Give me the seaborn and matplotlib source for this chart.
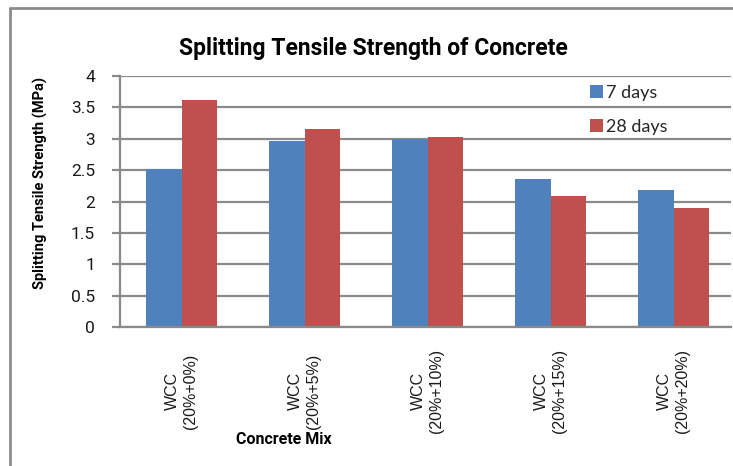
import matplotlib
matplotlib.use("Agg")
import matplotlib.pyplot as plt
from matplotlib.lines import Line2D
import seaborn as sns
import pandas as pd

# Concrete mixes and measured splitting tensile strength (MPa)
mixes = ["WCC\n(20%+0%)", "WCC\n(20%+5%)", "WCC\n(20%+10%)", "WCC\n(20%+15%)", "WCC\n(20%+20%)"]
ages = ["7 days", "28 days"]
strength_7d = [2.52, 2.97, 3.00, 2.36, 2.18]
strength_28d = [3.62, 3.15, 3.03, 2.08, 1.89]
yticks = [0, 0.5, 1, 1.5, 2, 2.5, 3, 3.5, 4]
ytick_labels = ["0", "0.5", "1", "1.5", "2", "2.5", "3", "3.5", "4"]

df = pd.DataFrame({
    "Mix": mixes * 2,
    "Age": [ages[0]] * len(mixes) + [ages[1]] * len(mixes),
    "Strength": strength_7d + strength_28d,
})

sns.set_theme(style="white")
plt.rcParams["font.family"] = ["Roboto", "DejaVu Sans"]

W, H = 733, 466
fig = plt.figure(figsize=(W / 100, H / 100), dpi=100)
ax = fig.add_axes([120 / W, (H - 327) / H, (731 - 120) / W, (327 - 76) / H])

grid_col = "#8a8a8a"
ax.set_axisbelow(True)
ax.yaxis.grid(True, color=grid_col, linewidth=1.6)
ax.xaxis.grid(False)

sns.barplot(data=df, x="Mix", y="Strength", hue="Age", order=mixes, hue_order=ages,
            palette=["#4F81BD", "#C0504D"], width=0.57, saturation=1,
            edgecolor="none", ax=ax)

ax.set_ylim(0, 4)
ax.set_xlim(-0.5, -0.5 + 611 / 123)
ax.set_yticks(yticks)
ax.set_yticklabels(ytick_labels, fontfamily="Roboto", fontsize=12.5, color="#1a1a1a")
ax.tick_params(axis="y", direction="out", length=6, width=1.6, color=grid_col, pad=12, left=True)
ax.tick_params(axis="x", length=0, pad=46)
for lbl in ax.get_xticklabels():
    lbl.set_rotation(90)
    lbl.set_ha("center")
    lbl.set_va("center")
    lbl.set_multialignment("center")
    lbl.set_fontsize(11.5)
    lbl.set_fontfamily("Liberation Sans")
    lbl.set_color("#1a1a1a")

for side in ["top", "right"]:
    ax.spines[side].set_visible(False)
for side in ["left", "bottom"]:
    ax.spines[side].set_color(grid_col)
    ax.spines[side].set_linewidth(1.6)

ax.set_xlabel("")
ax.set_ylabel("")

fig.text(373 / W, 1 - 48 / H, "Splitting Tensile Strength of Concrete",
         ha="center", va="center", fontsize=16.5, fontweight="bold",
         fontfamily="Roboto", color="black")
fig.text(40 / W, 1 - 183 / H, "Splitting Tensile Strength (MPa)",
         ha="center", va="center", rotation=90, fontsize=10.5, fontweight="bold",
         fontfamily="Roboto", color="black")
fig.text(284 / W, 1 - 439 / H, "Concrete Mix",
         ha="center", va="center", fontsize=11.5, fontweight="bold",
         fontfamily="Roboto", color="black")

handles, labels = ax.get_legend_handles_labels()
ax.legend(handles, labels, loc="upper left", bbox_to_anchor=(577 / W, 1 - 72 / H),
          bbox_transform=fig.transFigure, frameon=False, prop={"family": "Lato", "size": 13},
          handlelength=0.75, handleheight=0.75, handletextpad=0.15, labelspacing=1.0,
          borderpad=0.2)

# chart frame: left and top edges
frame_kw = dict(color="#8c8c8c", linewidth=2, transform=fig.transFigure, clip_on=False)
fig.add_artist(Line2D([10 / W, 10 / W], [0, 1 - 8 / H], **frame_kw))
fig.add_artist(Line2D([10 / W, 1], [1 - 8 / H, 1 - 8 / H], **frame_kw))

fig.savefig("out.png", dpi=100)
